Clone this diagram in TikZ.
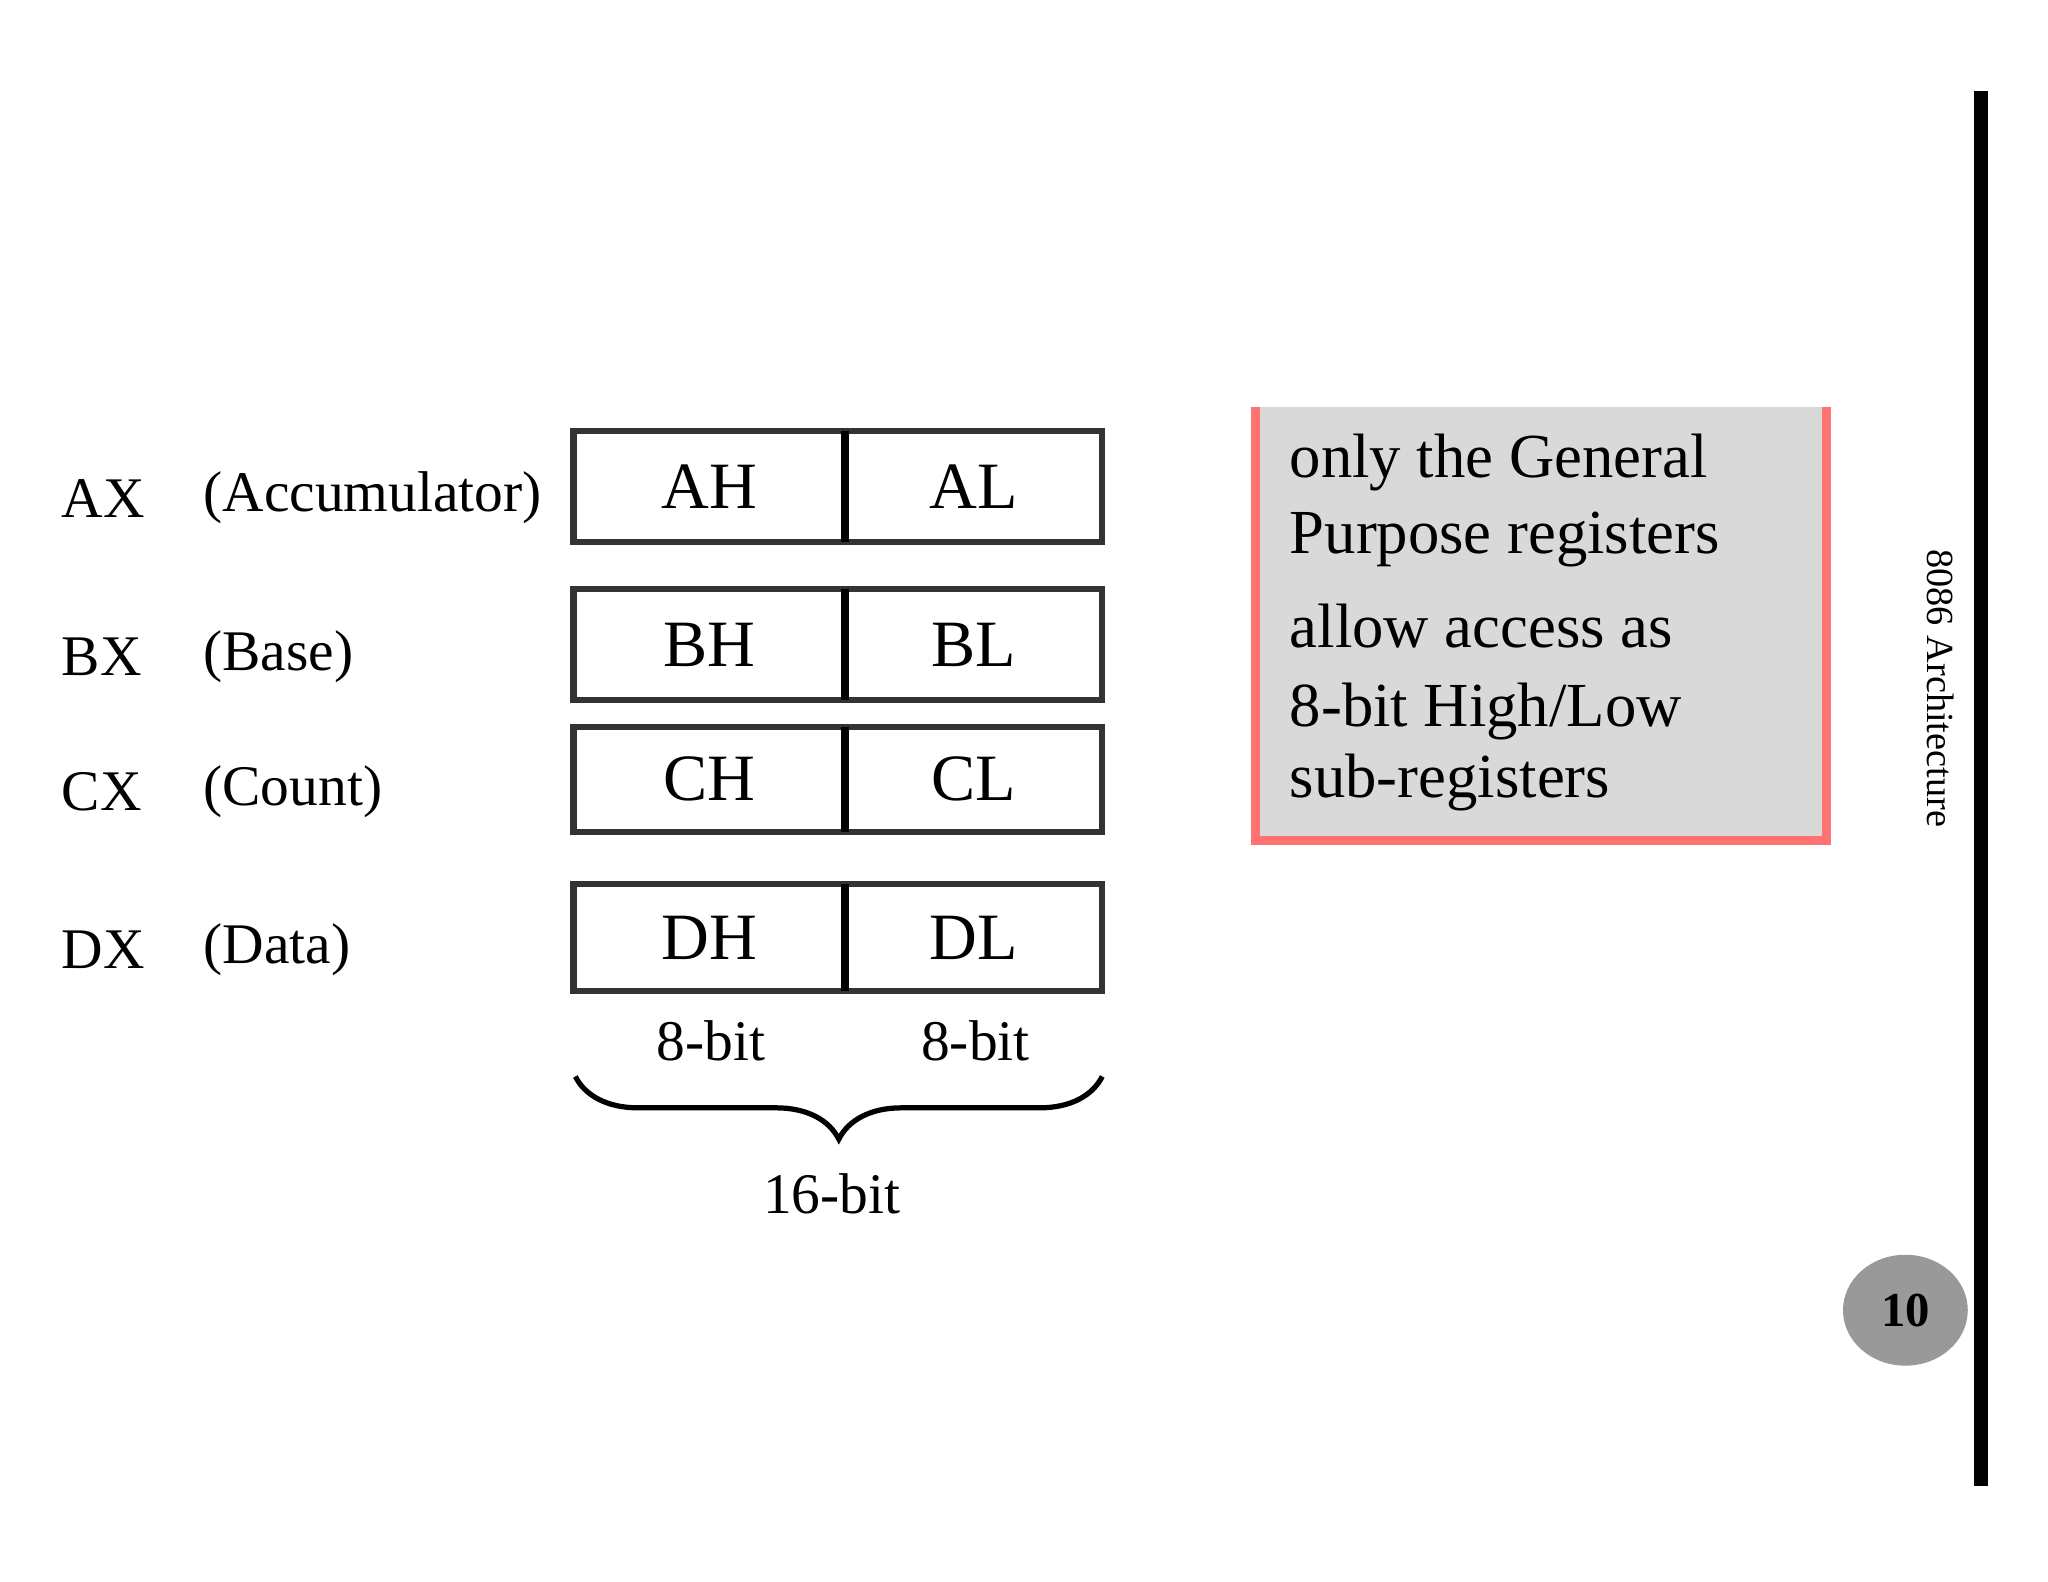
\documentclass[tikz,border=0pt]{standalone}
\usepackage{fontspec}
\setmainfont{Liberation Serif}
\usetikzlibrary{decorations.pathreplacing}
\begin{document}
\begin{tikzpicture}[x=0.01cm,y=-0.01cm,
  lab/.style={anchor=west,font=\fontsize{16.5}{20}\selectfont},
  cell/.style={font=\fontsize{19}{22}\selectfont},
  note/.style={anchor=west,font=\fontsize{18}{22}\selectfont}]
\useasboundingbox (0,0) rectangle (2068,1597);
\fill[white] (0,0) rectangle (2068,1597);
% vertical rule
\draw[line width=4pt] (2000,92) coordinate (t) -- (2000,1501) coordinate (b);
% register rows
\foreach \n/\h/\l/\y/\yy/\lab/\desc in {a/AH/AL/435/547/AX/(Accumulator),b/BH/BL/595/707/BX/(Base),c/CH/CL/734/840/CX/(Count),d/DH/DL/893/1001/DX/(Data)}{
  \draw[line width=1.8pt,draw=black!80] (579,\y) rectangle (1113,\yy);
  \draw[line width=2.2pt] (853,\y) -- (853,\yy);
  \node[cell] (\n h) at (716,{(\y+\yy)/2}) {\h};
  \node[cell] (\n l) at (983,{(\y+\yy)/2}) {\l};
  \node[lab] (\n x) at (50,{(\y+\yy)/2+12}) {\lab};
  \node[lab] (\n d) at (193,{(\y+\yy)/2+12}) {\desc};
}
\node[lab,anchor=center] (b1) at (718,1051) {8-bit};
\node[lab,anchor=center] (b2) at (985,1051) {8-bit};
\draw[line width=1.5pt,decorate,decoration={brace,mirror,amplitude=18pt}] (581,1087) -- (1113,1087);
\node[lab,anchor=center] (b16) at (840,1205) {16-bit};
% note box
\fill[black!15] (1268,411) rectangle (1844,849);
\draw[red!55,line width=2.5pt] (1268,411) -- (1268,849) -- (1844,849) -- (1844,411);
\node[note] (n1) at (1290,467) {only the General};
\node[note] (n2) at (1290,545) {Purpose registers};
\node[note] (n3) at (1290,632) {allow access as};
\node[note] (n4) at (1290,718) {8-bit High/Low};
\node[note] (n5) at (1290,790) {sub-registers};
% side title
\node[rotate=-90,font=\fontsize{11}{13}\selectfont] (side) at (1960,695) {8086 Architecture};
% page number
\fill[black!40] (1924,1323) ellipse (63 and 56);
\node[font=\bfseries\fontsize{14}{16}\selectfont] (pg) at (1924,1323) {10};
\end{tikzpicture}
\end{document}
